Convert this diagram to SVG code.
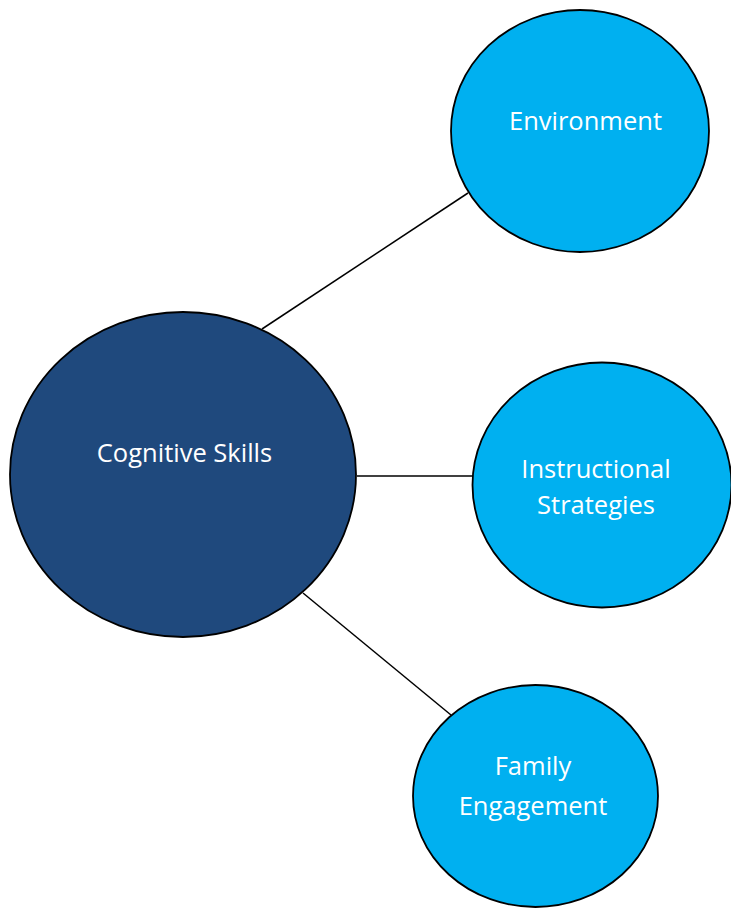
<svg xmlns="http://www.w3.org/2000/svg" width="731" height="908" viewBox="0 0 731 908">
<style>
.c{stroke:#000;stroke-width:1.8}
.dark{fill:#1F497D}
.light{fill:#00B0F0}
.t{font-family:"Open Sans","Noto Sans","Liberation Sans",sans-serif;font-size:25.5px;fill:#fff;text-anchor:middle}
.l{stroke:#000;stroke-width:1.5;fill:none}
</style>
<rect width="731" height="908" fill="#fff"/>
<g id="connectors">
<line class="l" x1="262" y1="329" x2="468" y2="193"/>
<line class="l" x1="357" y1="476" x2="473" y2="476"/>
<line class="l" x1="303" y1="593" x2="451" y2="715"/>
</g>
<g id="cognitive">
<ellipse class="c dark" cx="183" cy="474.5" rx="173" ry="162.5"/>
<text class="t" x="184.5" y="462">Cognitive Skills</text>
</g>
<g id="environment">
<ellipse class="c light" cx="580" cy="131" rx="129" ry="121"/>
<text class="t" x="585.5" y="130">Environment</text>
</g>
<g id="instructional">
<ellipse class="c light" cx="602" cy="485" rx="129.5" ry="122.5"/>
<text class="t" x="596" y="478">Instructional</text>
<text class="t" x="596" y="514">Strategies</text>
</g>
<g id="family">
<ellipse class="c light" cx="535.5" cy="796" rx="122.5" ry="111"/>
<text class="t" x="533" y="775">Family</text>
<text class="t" x="533" y="815">Engagement</text>
</g>
</svg>
